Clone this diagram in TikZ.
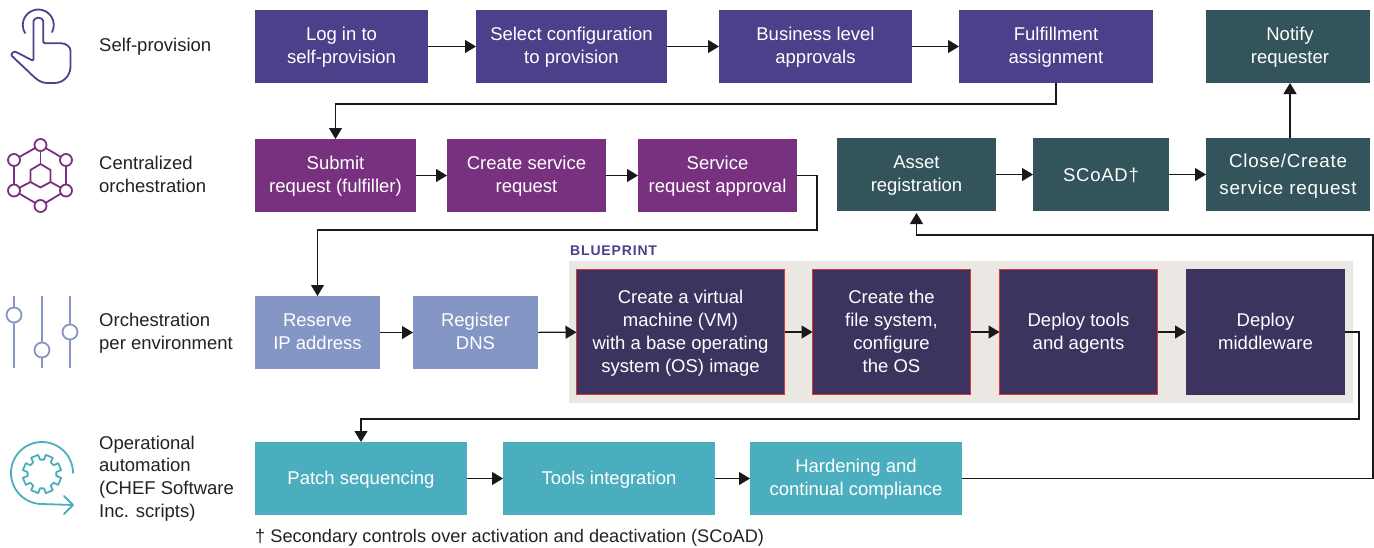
\documentclass[tikz,border=0pt]{standalone}
\usepackage{fontspec}
\setmainfont{Liberation Sans}
\newfontfamily\widefont[LetterSpace=4]{Liberation Sans}
\newfontfamily\bpfont[LetterSpace=6]{Liberation Sans}
\usetikzlibrary{arrows.meta,calc}
\definecolor{cindigo}{HTML}{4A418A}
\definecolor{cpurple}{HTML}{78317F}
\definecolor{clight}{HTML}{8497C4}
\definecolor{cdteal}{HTML}{33545B}
\definecolor{cteal}{HTML}{4BAEBF}
\definecolor{cnavy}{HTML}{3C345F}
\definecolor{cbg}{HTML}{EBE7E3}
\definecolor{cred}{HTML}{E2343C}
\definecolor{ctext}{HTML}{222222}
\tikzset{
  boxbase/.style={inner sep=0pt,outer sep=0pt,align=center,text=white,
    font=\fontsize{18.5}{23}\selectfont,text depth=2pt},
  indigobox/.style={boxbase,fill=cindigo},
  purplebox/.style={boxbase,fill=cpurple},
  lightbox/.style={boxbase,fill=clight},
  dtealbox/.style={boxbase,fill=cdteal},
  closebox/.style={dtealbox,font=\widefont\fontsize{18.8}{27}\selectfont,text depth=0pt},
  scoadbox/.style={dtealbox,font=\widefont\fontsize{18.5}{23}\selectfont,text depth=0pt},
  tealbox/.style={boxbase,fill=cteal},
  navybox/.style={boxbase,fill=cnavy},
  redbox/.style={boxbase,fill=cnavy,draw=cred,line width=1.2pt},
  rowlabel/.style={anchor=west,inner sep=0pt,align=left,text=ctext,
    font=\fontsize{18.5}{23}\selectfont},
  conn/.style={draw=black!90,line width=1.2pt,-{Triangle[length=11pt,width=13pt]}},
  icon/.style={line width=1.8pt,line join=round,line cap=round},
}
\newcommand\bx[7]{% style,name,x1,y1,x2,y2,text
  \pgfmathsetmacro\bxw{#5-#3}\pgfmathsetmacro\bxh{#6-#4}
  \pgfmathsetmacro\bxcx{(#5+#3)/2}\pgfmathsetmacro\bxcy{(#6+#4)/2}
  \node[#1,minimum width=\bxw pt,minimum height=\bxh pt] (#2) at (\bxcx,\bxcy) {#7};}
\begin{document}
\begin{tikzpicture}[x=1pt,y=-1pt]
\useasboundingbox (0,0) rectangle (1374,547);
% blueprint backdrop
\node[fill=cbg,inner sep=0pt,minimum width=784pt,minimum height=142pt] (bp) at (961,332) {};
\node[anchor=west,inner sep=0pt,text=cindigo,font=\bpfont\bfseries\fontsize{14}{15}\selectfont] (bplabel) at (570,250.5) {BLUEPRINT};
% row 1
\bx{indigobox}{a1}{255}{10}{428}{83}{Log in to\\self-provision}
\bx{indigobox}{a2}{476}{10}{667}{83}{Select configuration\\to provision}
\bx{indigobox}{a3}{719}{10}{912}{83}{Business level\\approvals}
\bx{indigobox}{a4}{959}{10}{1153}{83}{Fulfillment\\assignment}
\bx{dtealbox}{notify}{1206}{10}{1370}{83}{\hspace*{4pt}Notify\\\hspace*{4pt}requester}
% row 2
\bx{purplebox}{b1}{255}{139}{416}{212}{Submit\\request (fulfiller)}
\bx{purplebox}{b2}{447}{139}{606}{212}{Create service\\request}
\bx{purplebox}{b3}{638}{139}{797}{212}{Service\\request approval}
\bx{dtealbox}{c1}{837}{138}{996}{211}{Asset\\registration}
\bx{scoadbox}{c2}{1033}{138}{1169}{211}{SCoAD†}
\bx{closebox}{c3}{1206}{138}{1370}{211}{Close/Create\\service request}
% row 3
\bx{lightbox}{d1}{255}{296}{380}{369}{Reserve\\IP address}
\bx{lightbox}{d2}{413}{296}{538}{369}{Register\\DNS}
\bx{redbox}{e1}{576.5}{269.5}{784.5}{394.5}{Create a virtual\\machine (VM)\\with a base operating\\system (OS) image}
\bx{redbox}{e2}{812.5}{269.5}{970.5}{394.5}{Create the\\file system,\\configure\\the OS}
\bx{redbox}{e3}{999.5}{269.5}{1157.5}{394.5}{Deploy tools\\and agents}
\bx{navybox}{e4}{1186}{269}{1345}{395}{Deploy\\middleware}
% row 4
\bx{tealbox}{f1}{255}{442}{467}{515}{Patch sequencing}
\bx{tealbox}{f2}{503}{442}{715}{515}{Tools integration}
\bx{tealbox}{f3}{750}{442}{962}{515}{Hardening and\\continual compliance}
% routing levels
\coordinate (r1) at (0,104);
\coordinate (r2) at (0,230);
\coordinate (r2x) at (817,0);
\coordinate (r3) at (0,419);
\coordinate (r3x) at (1359,0);
\coordinate (r4) at (0,235);
\coordinate (r4x) at (1373,0);
% connectors
\draw[conn] (a1) -- (a2);
\draw[conn] (a2) -- (a3);
\draw[conn] (a3) -- (a4);
\draw[conn] (a4.south) -- (a4.south |- r1) -- (b1.north |- r1) -- (b1.north);
\draw[conn] (b1) -- (b2);
\draw[conn] (b2) -- (b3);
\draw[conn] (b3.east) -- (r2x |- b3.east) -- (r2x |- r2) -- (d1.north |- r2) -- (d1.north);
\draw[conn] (d1) -- (d2);
\draw[conn] (d2) -- (e1);
\draw[conn] (e1) -- (e2);
\draw[conn] (e2) -- (e3);
\draw[conn] (e3) -- (e4);
\draw[conn] (e4.east) -- (r3x |- e4.east) -- (r3x |- r3) -- (f1.north |- r3) -- (f1.north);
\draw[conn] (f1) -- (f2);
\draw[conn] (f2) -- (f3);
\draw[conn] (f3.east) -- (r4x |- f3.east) -- (r4x |- r4) -- (c1.south |- r4) -- ($(c1.south)+(0,2)$);
\draw[conn] (c1) -- (c2);
\draw[conn] (c2) -- (c3);
\draw[conn] ([xshift=2pt]c3.north) -- ([xshift=2pt]notify.south);
% row labels
\node[rowlabel] (l1) at (99,47) {Self-provision};
\node[rowlabel] (l2) at (99,174.5) {Centralized\\orchestration};
\node[rowlabel] (l3) at (99,333.5) {Orchestration\\per environment};
\node[rowlabel,font=\fontsize{18.5}{22.7}\selectfont] (l4) at (99,478.3) {Operational\\automation\\(CHEF Software\\Inc. scripts)};
\node[anchor=west,inner sep=0pt,text=ctext,font=\fontsize{18.2}{21}\selectfont] (foot) at (255,537.5) {† Secondary controls over activation and deactivation (SCoAD)};
% hand icon
\draw[icon,cindigo,rounded corners=1.5pt]
  (33.5,61) -- (33.5,22.5) arc[start angle=180,end angle=360,radius=4.9] -- (43.3,43.3) -- (60,43.3)
  .. controls (66,43.3) and (70.5,47) .. (70.5,52) -- (70.5,65)
  .. controls (70.5,76) and (63,83) .. (53,83) -- (48,83)
  .. controls (41,83) and (36,79) .. (31,74) -- (13,57)
  .. controls (10,54) and (14,51) .. (17,52.5) -- cycle;
\draw[icon,cindigo] (25,33) arc[start angle=149,end angle=387,radius=15.5];
% hexagon icon
\begin{scope}[icon,cpurple]
  \draw (40.5,145) -- (14,160) -- (14,190.5) -- (40.5,206) -- (66,190.5) -- (66,160) -- cycle;
  \draw (40.5,164) -- (50.5,170) -- (50.5,182) -- (40.5,187.5) -- (30.5,182) -- (30.5,170) -- cycle;
  \draw (40.5,145) -- (40.5,164);
  \draw (14,190.5) -- (30.5,182);
  \draw (66,190.5) -- (50.5,182);
  \foreach \p in {(40.5,145),(14,160),(66,160),(14,190.5),(66,190.5),(40.5,206)}
    \draw[fill=white] \p circle[radius=6];
\end{scope}
% sliders icon
\begin{scope}[icon,clight,line cap=butt]
  \draw (14,296) -- (14,368);
  \draw (42,296) -- (42,368);
  \draw (70,296) -- (70,368);
  \draw[fill=white] (14,315) circle[radius=7.5];
  \draw[fill=white] (42,350) circle[radius=7.5];
  \draw[fill=white] (70,332) circle[radius=7.5];
\end{scope}
% automation icon
\begin{scope}[icon,cteal]
  \draw (73,473) arc[start angle=0,end angle=-270,radius=31] -- (73,505);
  \draw (64,496) -- (73,505) -- (64,514);
  \draw (42,474) ++(-11.25:19.5)
    \foreach \a in {0,45,...,315} {
      -- ($(42,474)+(\a-11.25:19.5)$) -- ($(42,474)+(\a-8:14.5)$)
      -- ($(42,474)+(\a+8:14.5)$) -- ($(42,474)+(\a+11.25:19.5)$) } -- cycle;
\end{scope}
\end{tikzpicture}
\end{document}
